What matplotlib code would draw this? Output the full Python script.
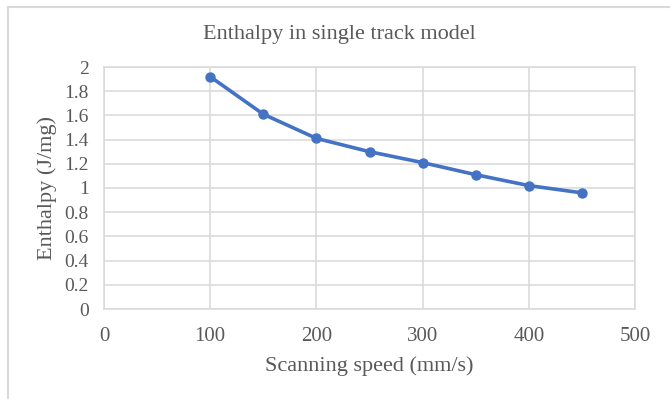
import matplotlib
matplotlib.use("Agg")
import matplotlib.pyplot as plt
from matplotlib.patches import Rectangle

speed = [100, 150, 200, 250, 300, 350, 400, 450]
enthalpy = [1.92, 1.61, 1.41, 1.30, 1.21, 1.11, 1.02, 0.96]
xticks = [0, 100, 200, 300, 400, 500]
yticks = [0, 0.2, 0.4, 0.6, 0.8, 1.0, 1.2, 1.4, 1.6, 1.8, 2.0]
ytick_labels = ["0", "0.2", "0.4", "0.6", "0.8", "1", "1.2", "1.4", "1.6", "1.8", "2"]

plt.rcParams['font.family'] = ['Liberation Serif', 'DejaVu Serif']
W, H = 670, 399
fig = plt.figure(figsize=(W / 100, H / 100), dpi=100)
fig.patch.set_facecolor('white')

# outer chart frame
fig.add_artist(Rectangle((8 / W, -0.05), 1.2, (H - 7) / H + 0.05, transform=fig.transFigure,
                         fill=False, edgecolor='#d9d9d9', linewidth=1.5))

left, right, top, bottom = 104, 635, 67, 309
ax = fig.add_axes([left / W, 1 - bottom / H, (right - left) / W, (bottom - top) / H])

text_c = '#595959'
ax.plot(speed, enthalpy, color='#4472C4', linewidth=2.6, marker='o', markersize=6.5,
        solid_capstyle='round', zorder=3)
ax.set_xlim(0, 500)
ax.set_ylim(0, 2)
ax.set_xticks(xticks)
ax.set_yticks(yticks)
ax.set_yticklabels(ytick_labels)
ax.grid(True, color='#d9d9d9', linewidth=1.1)
ax.set_axisbelow(True)
for s in ax.spines.values():
    s.set_color('#d9d9d9')
    s.set_linewidth(1.1)
ax.tick_params(length=0, labelsize=14, colors=text_c)
ax.tick_params(axis='x', pad=13, labelsize=15)
ax.tick_params(axis='y', pad=11)
ax.set_xlabel('Scanning speed (mm/s)', fontsize=16, color=text_c, labelpad=7)
ax.set_ylabel('Enthalpy (J/mg)', fontsize=16, color=text_c, labelpad=5)
fig.text(0.5 * (8 + W) / W, 1 - 34 / H, 'Enthalpy in single track model', ha='center', va='center',
         fontsize=16, color=text_c)

fig.savefig('out.png', dpi=100)
